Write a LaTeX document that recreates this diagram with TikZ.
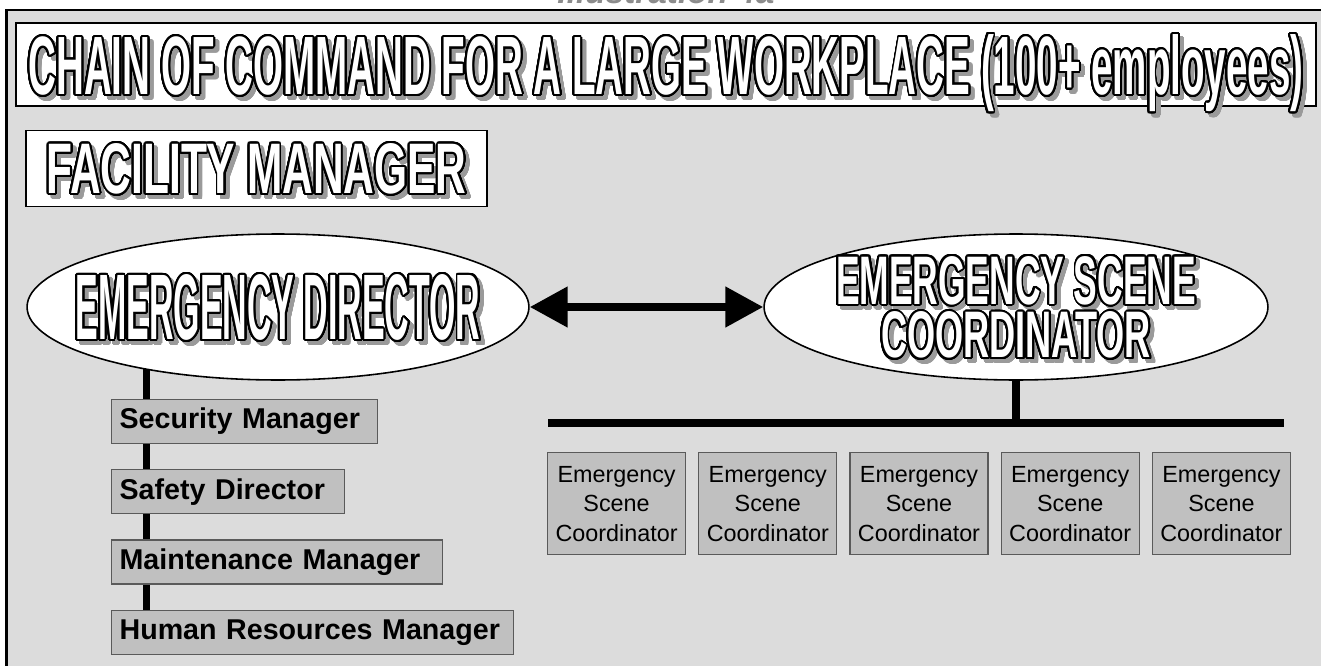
\documentclass[tikz,border=0pt]{standalone}
\usepackage{fontspec}
\setmainfont{Liberation Sans}
\usepackage{graphicx}
\usepackage{contour}
\usetikzlibrary{arrows.meta,positioning,shapes.geometric}
\contourlength{1.1pt}
\contournumber{32}
\definecolor{panelgray}{HTML}{DCDCDC}
\definecolor{shadowgray}{HTML}{9A9A9A}
\definecolor{boxgray}{HTML}{C0C0C0}
\definecolor{boxedge}{HTML}{5A5A5A}
\definecolor{headgray}{HTML}{8C8C8C}

% white letters with black outline and a grey shadow
\newcommand{\outlined}[3]{%
  \makebox[0pt][l]{\kern2.3pt\raisebox{-2.3pt}{\color{shadowgray}\contour{shadowgray}{\resizebox{#1}{#2}{\bfseries #3}}}}%
  {\color{white}\contour{black}{\resizebox{#1}{#2}{\bfseries #3}}}}

\pgfdeclarelayer{bg}
\pgfdeclarelayer{wires}
\pgfsetlayers{bg,wires,main}

\tikzset{
    %Define standard arrow tip
    >={Triangle[length=0.76cm,width=0.78cm]},
    %Define style for the white frames
    banner/.style={
           draw=black, line width=1.1pt,
           fill=white,
           inner sep=0pt},
    bubble/.style={
           ellipse,
           draw=black, line width=0.9pt,
           fill=white,
           inner sep=0pt,
           minimum height=2.92cm},
    bigword/.style={
           inner sep=0pt,
           text depth=0pt},
    %Define style for boxes
    rolebox/.style={
           rectangle,
           draw=boxedge, line width=0.7pt,
           fill=boxgray,
           inner xsep=0.16cm, inner ysep=0pt,
           minimum height=0.88cm,
           align=left,
           font=\bfseries\fontsize{16.3}{18}\selectfont},
    scenebox/.style={
           rectangle,
           draw=boxedge, line width=0.7pt,
           fill=boxgray,
           inner sep=0pt,
           text width=2.6cm,
           minimum width=2.76cm,
           minimum height=2.04cm,
           align=center,
           font=\fontsize{13.3}{16.8}\selectfont},
    % Define line styles
    spine/.style={line width=0.14cm},
    bar/.style={line width=0.16cm},
    twoway/.style={<->, line width=0.16cm}
}

\begin{document}
\begin{tikzpicture}[x=0.02cm, y=-0.02cm]
\useasboundingbox (0,0) rectangle (1326,666);

\begin{pgfonlayer}{bg}
\fill[panelgray] (5,10) rectangle (1321,680);
\draw[line width=0.05cm] (6.5,680) -- (6.5,10) -- (1321,10);
\end{pgfonlayer}

\node[anchor=base, text=headgray, font=\bfseries\itshape\fontsize{19}{20}\selectfont] (illus) at (666,4) {Illustration 4a};

 %nodes
\node[banner, minimum width=26cm, minimum height=1.66cm,
      label={[bigword]center:\outlined{25.5cm}{1.2cm}{CHAIN OF COMMAND FOR A LARGE WORKPLACE (100+ employees)}}]
      (title) at (666,64.5) {};
\node[banner, minimum width=9.22cm, minimum height=1.52cm,
      label={[bigword]center:\outlined{8.4cm}{1.0cm}{FACILITY MANAGER}}]
      (fm) at (256.5,168.5) {};

\node[bubble, minimum width=10.04cm,
      label={[bigword]center:\outlined{8.1cm}{1.3cm}{EMERGENCY DIRECTOR}}]
      (ed) at (278,307) {};
\node[bubble, minimum width=10.08cm,
      label={[bigword, align=center, font=\fontsize{10}{30.6}\selectfont]center:{\outlined{7.2cm}{0.96cm}{EMERGENCY SCENE}\\\outlined{5.4cm}{0.92cm}{COORDINATOR}}}]
      (esc) at (1016,307) {};

\node[rolebox, anchor=north west, text width=5.0cm] (sec) at (111,399) {Security Manager};
\node[rolebox, below right=0.5cm and 0cm of sec.south west, text width=4.34cm] (saf) {Safety Director};
\node[rolebox, below right=0.5cm and 0cm of saf.south west, text width=6.3cm] (mnt) {Maintenance Manager};
\node[rolebox, below right=0.5cm and 0cm of mnt.south west, text width=7.72cm] (hr) {Human Resources Manager};

\node[scenebox, anchor=north west] (c1) at (547,452) {Emergency\\Scene\\Coordinator};
\node[scenebox, right=0.24cm of c1] (c2) {Emergency\\Scene\\Coordinator};
\node[scenebox, right=0.24cm of c2] (c3) {Emergency\\Scene\\Coordinator};
\node[scenebox, right=0.24cm of c3] (c4) {Emergency\\Scene\\Coordinator};
\node[scenebox, right=0.24cm of c4] (c5) {Emergency\\Scene\\Coordinator};

 %connectors
\coordinate (edfoot) at (146.5,360);
\coordinate (barL) at (548,423);
\coordinate (barR) at (1284,423);

\begin{pgfonlayer}{wires}
\draw[spine] (edfoot) -- (edfoot |- hr.north);
\draw[bar] (esc.south) -- (esc.south |- barL);
\draw[bar] (barL) -- (barR);
\end{pgfonlayer}

\draw[twoway] (ed.east) -- (esc.west);

\end{tikzpicture}
\end{document}
